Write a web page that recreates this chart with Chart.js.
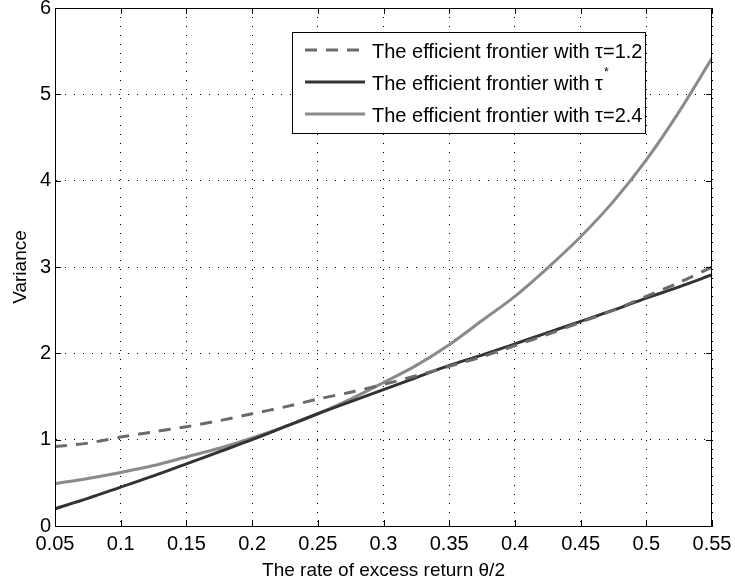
<!DOCTYPE html>
<html>
<head>
<meta charset="utf-8">
<script src="https://cdn.jsdelivr.net/npm/chart.js@4"></script>
<style>
  html, body { margin: 0; padding: 0; background: #fff; }
  #wrap { width: 735px; height: 585px; }
</style>
</head>
<body>
<div id="wrap"><canvas id="myChart" width="735" height="585"></canvas></div>
<script>
// rate of excess return theta/2
const returns = [0.05, 0.075, 0.1, 0.125, 0.15, 0.175, 0.2, 0.225, 0.25, 0.275, 0.3,
                 0.325, 0.35, 0.375, 0.4, 0.425, 0.45, 0.475, 0.5, 0.525, 0.55];
const varTau12 = [0.92, 0.96, 1.03, 1.09, 1.15, 1.22, 1.3, 1.38, 1.47, 1.55, 1.64,
                  1.74, 1.85, 1.96, 2.09, 2.22, 2.36, 2.5, 2.66, 2.82, 3.0];
const varTauStar = [0.2, 0.32, 0.45, 0.58, 0.72, 0.86, 1.0, 1.15, 1.3, 1.44, 1.58,
                    1.72, 1.86, 1.98, 2.11, 2.24, 2.37, 2.5, 2.64, 2.77, 2.91];
const varTau24 = [0.49, 0.55, 0.62, 0.7, 0.8, 0.9, 1.02, 1.15, 1.3, 1.47, 1.66,
                  1.86, 2.1, 2.38, 2.66, 2.99, 3.35, 3.76, 4.24, 4.8, 5.42];
const seriesLabels = ['The efficient frontier with \u03c4=1.2',
                      'The efficient frontier with \u03c4*',
                      'The efficient frontier with \u03c4=2.4'];

const FONT = 'Arial, "Liberation Sans", Helvetica, sans-serif';

const toPoints = ys => returns.map((x, i) => ({ x: x, y: ys[i] }));

// matlab style: box, inward ticks, legend inside the axes
const matlabBox = {
  id: 'matlabBox',
  afterDraw(chart) {
    const ctx = chart.ctx;
    const a = chart.chartArea;
    const xs = chart.scales.x, ys = chart.scales.y;
    ctx.save();
    ctx.strokeStyle = '#000';
    ctx.lineWidth = 1;
    ctx.setLineDash([]);
    ctx.strokeRect(a.left + 0.5, a.top + 0.5, a.right - a.left - 1, a.bottom - a.top);
    ctx.beginPath();
    xs.ticks.forEach(t => {
      const px = Math.round(xs.getPixelForValue(t.value)) + 0.5;
      ctx.moveTo(px, a.bottom); ctx.lineTo(px, a.bottom - 6);
      ctx.moveTo(px, a.top); ctx.lineTo(px, a.top + 6);
    });
    ys.ticks.forEach(t => {
      const py = Math.round(ys.getPixelForValue(t.value)) + 0.5;
      ctx.moveTo(a.left, py); ctx.lineTo(a.left + 6, py);
      ctx.moveTo(a.right, py); ctx.lineTo(a.right - 6, py);
    });
    ctx.stroke();

    // legend
    const lx = a.right - 420, ly = a.top + 24, lw = 353, lh = 101;
    ctx.fillStyle = '#fff';
    ctx.fillRect(lx, ly, lw, lh);
    ctx.strokeRect(lx + 0.5, ly + 0.5, lw, lh);
    chart.data.datasets.forEach((ds, i) => {
      const ry = ly + 18 + i * 32;
      ctx.strokeStyle = ds.borderColor;
      ctx.lineWidth = ds.borderWidth;
      ctx.setLineDash(ds.borderDash || []);
      ctx.beginPath();
      ctx.moveTo(lx + 13, ry); ctx.lineTo(lx + 73, ry);
      ctx.stroke();
      ctx.setLineDash([]);
      ctx.fillStyle = '#000';
      ctx.font = '20px ' + FONT;
      ctx.textBaseline = 'middle';
      ctx.textAlign = 'left';
      let txt = ds.label, sup = '';
      if (txt.endsWith('*')) { txt = txt.slice(0, -1); sup = '*'; }
      ctx.fillText(txt, lx + 80, ry + 2);
      if (sup) {
        const w = ctx.measureText(txt).width;
        ctx.font = '12px ' + FONT;
        ctx.fillText(sup, lx + 80 + w + 1, ry - 9);
      }
    });
    ctx.restore();
  }
};

const ctx = document.getElementById('myChart').getContext('2d');
new Chart(ctx, {
  type: 'line',
  data: {
    datasets: [
      { label: seriesLabels[0], data: toPoints(varTau12), borderColor: '#6b6b6b',
        borderWidth: 3, borderDash: [12, 9] },
      { label: seriesLabels[1], data: toPoints(varTauStar), borderColor: '#333333',
        borderWidth: 3 },
      { label: seriesLabels[2], data: toPoints(varTau24), borderColor: '#8a8a8a',
        borderWidth: 3 }
    ]
  },
  options: {
    responsive: false,
    animation: false,
    elements: { point: { radius: 0 }, line: { tension: 0.3 } },
    layout: { padding: { left: 9, right: 23, top: 8, bottom: 3 } },
    plugins: { legend: { display: false }, tooltip: { enabled: false } },
    scales: {
      x: {
        type: 'linear', min: 0.05, max: 0.55,
        afterFit: s => { s.height = 56; s.paddingLeft = 0; s.paddingRight = 0; },
        ticks: {
          stepSize: 0.05, padding: 6, color: '#000',
          font: { size: 20, family: FONT },
          maxRotation: 0,
          callback: v => String(Number(v.toFixed(2)))
        },
        grid: { color: '#000', lineWidth: 1, drawTicks: false },
        border: { color: '#000', width: 1, dash: [1, 8] },
        title: { display: true, text: 'The rate of excess return \u03b8/2', color: '#000',
                 font: { size: 19, family: FONT }, padding: 0 }
      },
      y: {
        min: 0, max: 6,
        afterFit: s => { s.width = 46; s.paddingTop = 0; s.paddingBottom = 0; },
        ticks: { stepSize: 1, padding: 4, color: '#000', font: { size: 20, family: FONT } },
        grid: { color: '#000', lineWidth: 1, drawTicks: false },
        border: { color: '#000', width: 1, dash: [1, 8] },
        title: { display: true, text: 'Variance', color: '#000',
                 font: { size: 19, family: FONT }, padding: 0 }
      }
    }
  },
  plugins: [matlabBox]
});
</script>
</body>
</html>
